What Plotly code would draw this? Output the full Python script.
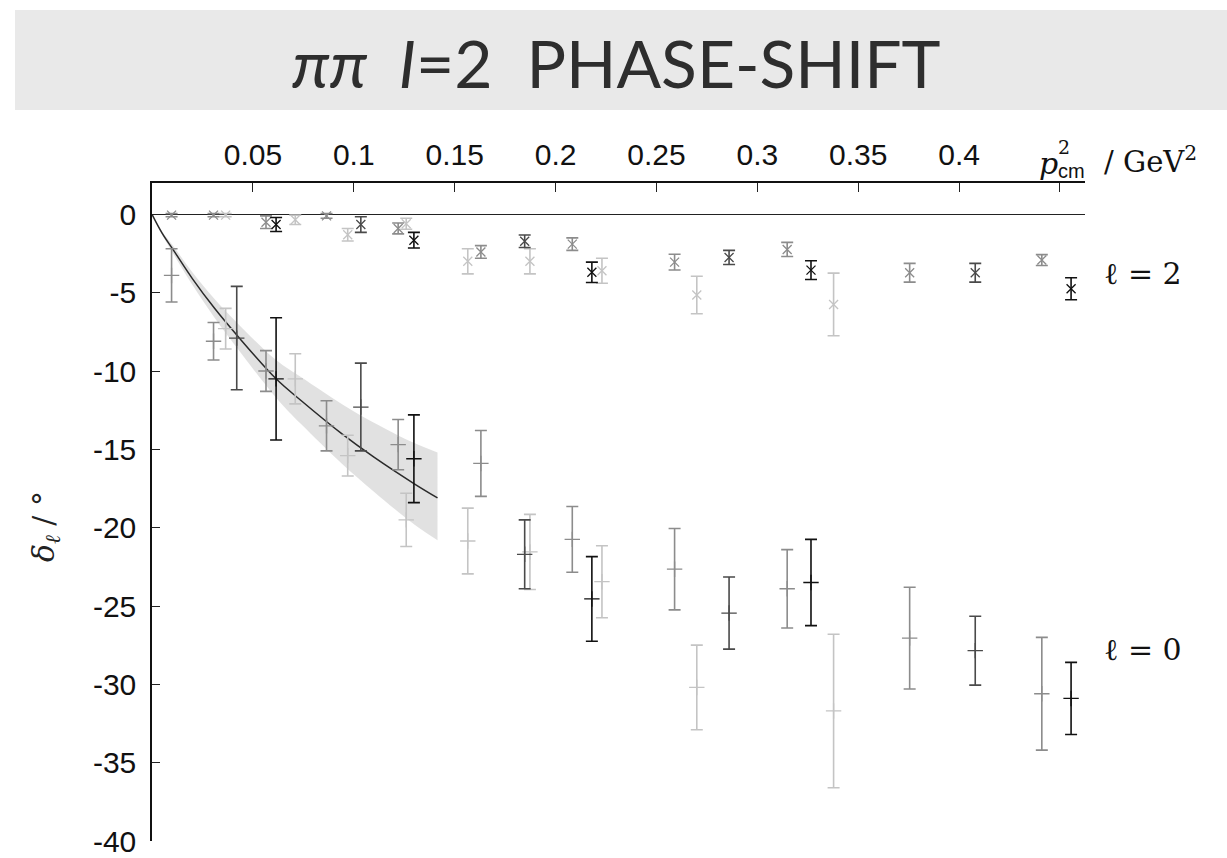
import plotly.graph_objects as go

# ---- data: squared CM momentum (GeV^2) and phase shifts (degrees) per ensemble ----
# medium-grey ensemble
p_med = [0.0097, 0.0305, 0.0565, 0.0865, 0.122, 0.163, 0.2083, 0.259, 0.3148, 0.3755, 0.441]
d0_med = [-3.9, -8.1, -10.0, -13.5, -14.7, -15.9, -20.75, -22.65, -23.9, -27.05, -30.6]
e0_med = [1.7, 1.2, 1.3, 1.6, 1.6, 2.1, 2.1, 2.6, 2.5, 3.25, 3.6]
d2_med = [-0.05, -0.05, -0.5, -0.1, -0.9, -2.4, -1.9, -3.05, -2.24, -3.73, -2.92]
e2_med = [0.1, 0.1, 0.4, 0.15, 0.35, 0.4, 0.4, 0.5, 0.45, 0.6, 0.35]

# light-grey ensemble
p_light = [0.0365, 0.071, 0.097, 0.126, 0.1565, 0.1873, 0.223, 0.270, 0.3378]
d0_light = [-7.3, -10.5, -15.4, -19.5, -20.85, -21.55, -23.45, -30.2, -31.7]
e0_light = [1.3, 1.6, 1.3, 1.7, 2.1, 2.4, 2.3, 2.7, 4.9]
d2_light = [-0.05, -0.35, -1.3, -0.6, -3.0, -3.0, -3.6, -5.15, -5.75]
e2_light = [0.1, 0.3, 0.4, 0.35, 0.8, 0.8, 0.8, 1.2, 2.0]

# dark-grey ensemble
p_dark = [0.042, 0.1035, 0.1847, 0.286, 0.408]
d0_dark = [-7.9, -12.3, -21.7, -25.45, -27.85]
e0_dark = [3.3, 2.8, 2.2, 2.3, 2.2]
d2_dark = [None, -0.65, -1.72, -2.75, -3.73]
e2_dark = [0.0, 0.5, 0.4, 0.45, 0.6]

# black ensemble
p_black = [0.0615, 0.1298, 0.218, 0.3266, 0.4555]
d0_black = [-10.5, -15.6, -24.55, -23.5, -30.9]
e0_black = [3.9, 2.8, 2.7, 2.75, 2.3]
d2_black = [-0.65, -1.65, -3.7, -3.56, -4.75]
e2_black = [0.45, 0.5, 0.65, 0.6, 0.7]

# l=0 fit curve and its uncertainty band
fit_p = [0.0, 0.005, 0.0107, 0.02, 0.031, 0.042, 0.0615, 0.074, 0.094, 0.11, 0.13, 0.1415]
fit_d = [0.0, -1.2, -2.3, -4.1, -6.0, -7.7, -10.5, -11.9, -14.0, -15.5, -17.2, -18.1]
band_hi = [0.0, -1.1, -2.05, -3.7, -5.4, -6.9, -9.3, -10.4, -12.1, -13.3, -14.6, -15.2]
band_lo = [0.0, -1.3, -2.55, -4.5, -6.6, -8.5, -11.7, -13.4, -15.9, -17.7, -19.8, -20.8]

x_ticks = [0.05, 0.1, 0.15, 0.2, 0.25, 0.3, 0.35, 0.4, 0.45]
x_ticktext = ["0.05", "0.1", "0.15", "0.2", "0.25", "0.3", "0.35", "0.4", ""]
y_ticks = [0, -5, -10, -15, -20, -25, -30, -35, -40]

# ---- page geometry (pixels) ----
W, H = 1227, 858
L, R, T, B = 152, 1085, 183, 841


def px(x):
    return (x - L) / (R - L)


def py(y):
    return (B - y) / (B - T)


fig = go.Figure()

# uncertainty band
fig.add_trace(go.Scatter(x=fit_p, y=band_hi, mode="lines", line=dict(width=0, shape="spline"),
                         hoverinfo="skip", showlegend=False))
fig.add_trace(go.Scatter(x=fit_p, y=band_lo, mode="lines", line=dict(width=0, shape="spline"),
                         fill="tonexty", fillcolor="rgba(200,200,200,0.55)",
                         hoverinfo="skip", showlegend=False))
# central fit
fig.add_trace(go.Scatter(x=fit_p, y=fit_d, mode="lines",
                         line=dict(color="#2a2a2a", width=1.5, shape="spline"),
                         hoverinfo="skip", showlegend=False))

ensembles = [
    ("#c4c4c4", p_light, d0_light, e0_light, d2_light, e2_light),
    ("#8c8c8c", p_med, d0_med, e0_med, d2_med, e2_med),
    ("#4a4a4a", p_dark, d0_dark, e0_dark, d2_dark, e2_dark),
    ("#111111", p_black, d0_black, e0_black, d2_black, e2_black),
]

for col, p, d0, e0, d2, e2 in ensembles:
    fig.add_trace(go.Scatter(
        x=p, y=d0, mode="markers", showlegend=False,
        marker=dict(symbol="cross-thin", size=11, color=col, line=dict(color=col, width=1.3)),
        error_y=dict(type="data", array=e0, color=col, thickness=1.6, width=6),
    ))
    fig.add_trace(go.Scatter(
        x=p, y=d2, mode="markers", showlegend=False,
        marker=dict(symbol="x-thin", size=9, color=col, line=dict(color=col, width=1.3)),
        error_y=dict(type="data", array=e2, color=col, thickness=1.6, width=6),
    ))

axis_font = dict(family="Liberation Sans, Arial, sans-serif", size=30, color="#111")

fig.update_xaxes(
    range=[0, 0.4624], side="top", tickvals=x_ticks, ticktext=x_ticktext,
    ticks="inside", ticklen=9, tickwidth=1.3, tickcolor="#222",
    showline=True, linecolor="#111", linewidth=1.5, mirror=False, automargin=False,
    showgrid=False, zeroline=False, tickfont=axis_font, ticklabelstandoff=4,
)
fig.update_yaxes(
    range=[-40, 2], tickvals=y_ticks, ticktext=[str(v) for v in y_ticks],
    ticks="inside", ticklen=8, tickwidth=1.3, tickcolor="#222",
    showline=True, linecolor="#111", linewidth=1.5, mirror=False, automargin=False,
    showgrid=False, zeroline=True, zerolinecolor="#222", zerolinewidth=1,
    tickfont=axis_font, ticklabelstandoff=8,
)

serif = "DejaVu Serif, Liberation Serif, serif"
NB = "\u00a0"

annotations = [
    # title
    dict(x=px(616), y=py(62), text="<i>ππ" + NB + NB + "I</i>=2" + NB + NB + "PHASE-SHIFT",
         font=dict(family="Lato, sans-serif", size=66, color="#2e2e2e", weight=400)),
    # y-axis title
    dict(x=px(45), y=py(527), text="<i>δ<sub>ℓ</sub></i> / °", textangle=-90,
         font=dict(family=serif, size=30, color="#222")),
    # x-axis title
    dict(x=px(1048), y=py(163), text="<i>p</i>", font=dict(family=serif, size=30, color="#111")),
    dict(x=px(1064), y=py(147), text="2", font=dict(family=serif, size=19, color="#111")),
    dict(x=px(1071), y=py(171), text="cm", font=dict(family="Liberation Sans, sans-serif", size=20, color="#111")),
    dict(x=px(1150), y=py(160), text="/ GeV<sup>2</sup>", font=dict(family=serif, size=29, color="#111")),
    # curve labels
    dict(x=px(1143), y=py(273), text="ℓ = 2", font=dict(family=serif, size=30, color="#111")),
    dict(x=px(1143), y=py(649), text="ℓ = 0", font=dict(family=serif, size=30, color="#111")),
]
for a in annotations:
    a.update(xref="paper", yref="paper", showarrow=False, xanchor="center", yanchor="middle")

fig.update_layout(
    width=W, height=H,
    margin=dict(l=L, r=W - R, t=T, b=H - B, pad=0, autoexpand=False),
    paper_bgcolor="white", plot_bgcolor="white",
    annotations=annotations,
    shapes=[dict(type="rect", xref="paper", yref="paper", layer="below",
                 x0=px(15), x1=px(1227), y0=py(110), y1=py(10),
                 fillcolor="#e9e9e9", line=dict(width=0))],
    showlegend=False,
)

fig.write_html("out.html")
